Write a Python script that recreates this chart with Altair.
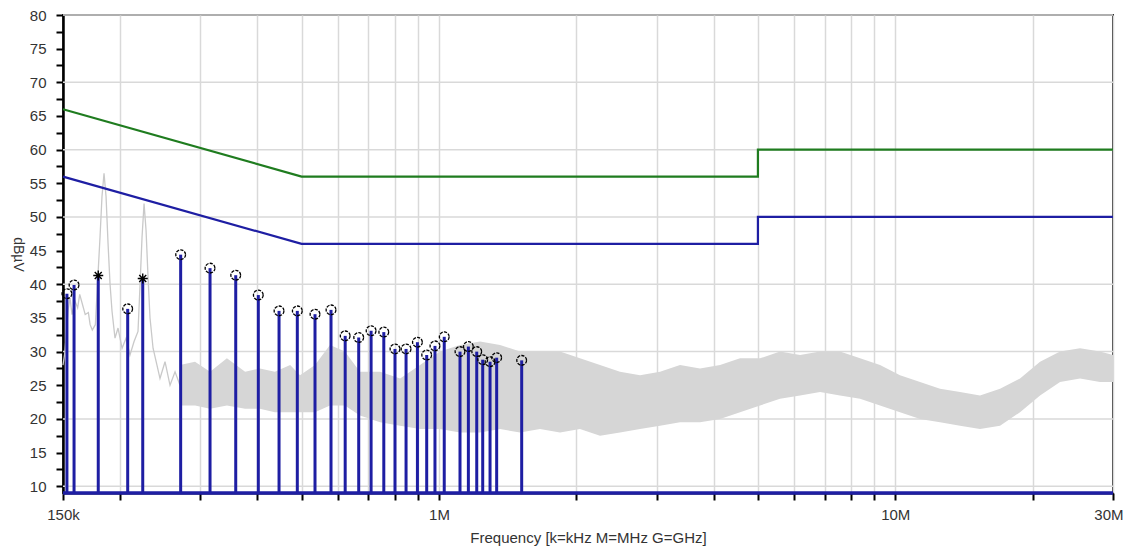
import altair as alt
import pandas as pd

# ---------------- data ----------------
# frequency axis in kHz (log scale), levels in dBµV
x_tick_khz = [150, 200, 300, 400, 500, 600, 700, 800, 900,
              1000, 2000, 3000, 4000, 5000, 6000, 7000, 8000, 9000,
              10000, 20000, 30000]
x_label_khz = [150, 1000, 10000, 30000]
x_label_txt = ["150k", "1M", "10M", "30M"]

y_tick_db = [10, 12.5, 15, 17.5, 20, 22.5, 25, 27.5, 30, 32.5, 35, 37.5, 40,
             42.5, 45, 47.5, 50, 52.5, 55, 57.5, 60, 62.5, 65, 67.5, 70,
             72.5, 75, 77.5, 80]
y_grid_db = [10, 20, 30, 40, 50, 60, 70, 80]
y_floor_db = 9
y_top_db = 80

# limit lines (quasi-peak green, average blue)
lim_khz = [150, 500, 5000, 5000, 30000]
qp_db = [66, 56, 56, 60, 60]
av_db = [56, 46, 46, 50, 50]

# measured trace, low-frequency part (drawn as a line)
trace_khz = [150, 151.5, 153.8, 155.4, 157.0, 159.4, 161.5, 163.2, 165.5, 167.8,
             170.5, 172.0, 173.9, 176.6, 178.5, 180.8, 182.6, 184.5, 186.4, 188.3,
             190.2, 192.1, 195.0, 198.0, 202.1, 206.2, 210.3, 214.7, 219.0, 221.3,
             223.5, 225.8, 228.1, 230.4, 232.7, 236.3, 241.0, 244.7, 251.0, 257.4,
             264.0, 270.7]
trace_db = [28, 30, 36, 38, 35.5, 37.5, 36.5, 38.5, 37, 35.5,
            35.8, 34, 33.2, 34, 40, 47, 53, 56.5, 53, 46,
            40, 36, 32, 33.5, 30.5, 32, 29.5, 31.5, 33, 40,
            47, 52, 48, 41, 35, 30.5, 28, 26, 28.5, 25,
            27, 25]

# measured trace, dense noisy part (drawn as its low/high envelope)
band_khz = [270.7, 292, 315, 343, 376, 405, 437, 472, 496, 535,
            577, 622, 671, 743, 822, 909, 1005, 1112, 1230, 1361,
            1506, 1665, 1842, 2037, 2254, 2493, 2758, 3051, 3375, 3733,
            4131, 4569, 5054, 5590, 6185, 6841, 7566, 8372, 9259, 10242,
            11332, 12534, 13865, 15335, 16966, 18768, 20760, 22966, 25402, 28098,
            30000]
band_lo = [22, 22, 21.5, 22, 21.5, 21.5, 21, 21, 21, 21,
           22, 22, 20.5, 19.5, 19, 18.5, 18.5, 18, 18, 18.5,
           18, 18.5, 18, 18.5, 17.5, 18, 18.5, 19, 19.5, 19.5,
           20, 21, 22, 23, 23.5, 24, 23.5, 23, 22, 21,
           20, 19.5, 19, 18.5, 19, 21, 23.5, 25.5, 26, 25.5,
           25.5]
band_hi = [28, 28.5, 27, 29, 27, 27.5, 27, 28, 26.5, 28,
           31, 30, 27, 27, 26, 28, 30, 31, 31.5, 31,
           30, 30, 30, 29, 28, 27, 26.5, 27, 28, 27.5,
           28, 29, 29, 30, 29.5, 30, 30, 29, 28, 26.5,
           25.5, 24.5, 24, 23.5, 24.5, 26, 28.5, 30, 30.5, 30,
           29.5]

# final measurement peaks (stems)
peak_khz = [153, 158.6, 179.2, 207.9, 224.3, 271.6, 315, 358.6, 401.9, 446.2,
            489.3, 535, 580, 623, 667, 710, 757, 801, 847, 897,
            940, 980, 1027, 1112, 1160, 1210, 1247, 1294, 1338, 1518]
peak_db = [38.6, 39.9, 41.3, 36.35, 40.85, 44.4, 42.4, 41.35, 38.4, 36.05,
           36.05, 35.56, 36.2, 32.34, 32.1, 33.1, 32.9, 30.4, 30.4, 31.4,
           29.5, 30.85, 32.2, 30.0, 30.75, 30.0, 28.8, 28.5, 29.1, 28.7]
peak_mark = ["o", "o", "*", "o", "*", "o", "o", "o", "o", "o",
             "o", "o", "o", "o", "o", "o", "o", "o", "o", "o",
             "o", "o", "o", "o", "o", "o", "o", "o", "o", "o"]

# ---------------- tables ----------------
df_grid = pd.DataFrame({"v": y_grid_db})
df_lim = pd.DataFrame({"f": lim_khz, "qp": qp_db, "av": av_db, "i": list(range(len(lim_khz)))})
df_trace = pd.DataFrame({"f": trace_khz, "v": trace_db})
df_band = pd.DataFrame({"f": band_khz, "lo": band_lo, "hi": band_hi})
df_peak = pd.DataFrame({"f": peak_khz, "v": peak_db, "m": peak_mark})
df_base = pd.DataFrame({"v": [y_floor_db]})

FONT = "Liberation Sans"
TXT = "#333333"
BLUE = "#1e1ea3"
GREEN = "#1f7c1f"

x_label_expr = " : ".join(
    f"datum.value == {k} ? '{t}'" for k, t in zip(x_label_khz, x_label_txt)
) + " : ''"
last_khz = x_tick_khz[-1]

xscale = alt.Scale(type="log", domain=[x_tick_khz[0], x_tick_khz[-1]], nice=False)
yscale = alt.Scale(domain=[y_floor_db, y_top_db], nice=False, zero=False)

xaxis = alt.Axis(
    values=x_tick_khz, labelExpr=x_label_expr,
    title="Frequency [k=kHz M=MHz G=GHz]",
    grid=True, gridColor="#d9d9d9", gridWidth=1.5,
    tickColor="black", tickWidth=2, tickSize=7,
    domainColor="black", domainWidth=2,
    labelPadding=7, labelFlush=False, labelOverlap=False,
    labelAlign={"condition": {"test": f"datum.value == {last_khz}", "value": "right"},
                "value": "center"},
    labelOffset={"condition": {"test": f"datum.value == {last_khz}", "value": 10},
                 "value": 0},
    labelFont=FONT, labelFontSize=15, labelColor=TXT,
    titleFont=FONT, titleFontSize=15, titleFontWeight="normal", titleColor=TXT,
    titleX=525, titleY=44, titleAlign="center", titleBaseline="middle",
)
yaxis = alt.Axis(
    values=y_tick_db, labelExpr="datum.value % 5 == 0 ? datum.value : ''",
    title="dBµV", grid=False,
    tickColor="black", tickWidth=2, tickSize=7,
    domainColor="black", domainWidth=2.5,
    labelPadding=10, labelOverlap=False,
    labelFont=FONT, labelFontSize=15, labelColor=TXT,
    titleFont=FONT, titleFontSize=14, titleFontWeight="normal", titleColor=TXT,
    titleAngle=90, titleX=-46, titleY=239, titleAlign="center", titleBaseline="middle",
)

X = alt.X("f:Q", scale=xscale, axis=xaxis)


def Y(field):
    return alt.Y(field, type="quantitative", scale=yscale, axis=yaxis)


grid = alt.Chart(df_grid).mark_rule(color="#d9d9d9", strokeWidth=1.5).encode(y=Y("v"))

band = alt.Chart(df_band).mark_area(color="#d6d6d6").encode(
    x=X, y=Y("lo"), y2=alt.Y2("hi")
)
trace = alt.Chart(df_trace).mark_line(color="#c9c9c9", strokeWidth=1.3).encode(x=X, y=Y("v"))

qp = alt.Chart(df_lim).mark_line(color=GREEN, strokeWidth=2.2).encode(
    x=X, y=Y("qp"), order=alt.Order("i:Q")
)
av = alt.Chart(df_lim).mark_line(color=BLUE, strokeWidth=2.2).encode(
    x=X, y=Y("av"), order=alt.Order("i:Q")
)

stems = alt.Chart(df_peak).mark_rule(color=BLUE, strokeWidth=3).encode(
    x=X, y=Y("v"), y2=alt.datum(y_floor_db)
)
base = alt.Chart(df_base).mark_rule(color=BLUE, strokeWidth=3.5).encode(
    y=Y("v"), x=alt.datum(x_tick_khz[0]), x2=alt.datum(x_tick_khz[-1])
)

circles = alt.Chart(df_peak).transform_filter("datum.m == 'o'").mark_point(
    shape="circle", size=95, filled=False, color="black",
    strokeWidth=1.3, strokeDash=[3.2, 1.2], opacity=1
).encode(x=X, y=Y("v"))

stars = alt.Chart(df_peak).transform_filter("datum.m == '*'").mark_point(
    shape="M-1,0L1,0M0,-1L0,1M-0.7,-0.7L0.7,0.7M-0.7,0.7L0.7,-0.7",
    size=100, filled=False, color="black", strokeWidth=1.4, opacity=1
).encode(x=X, y=Y("v"))

chart = alt.layer(
    grid, band, trace, qp, av, stems, base, circles, stars
).properties(
    width=1050, height=478,
    padding={"left": 55, "top": 7, "right": 10, "bottom": 60},
    autosize=alt.AutoSizeParams(type="none"),
    background="white",
).configure_view(
    stroke="#333333", strokeWidth=2
)

chart.save("out.html", embed_options={"renderer": "svg", "actions": False})
